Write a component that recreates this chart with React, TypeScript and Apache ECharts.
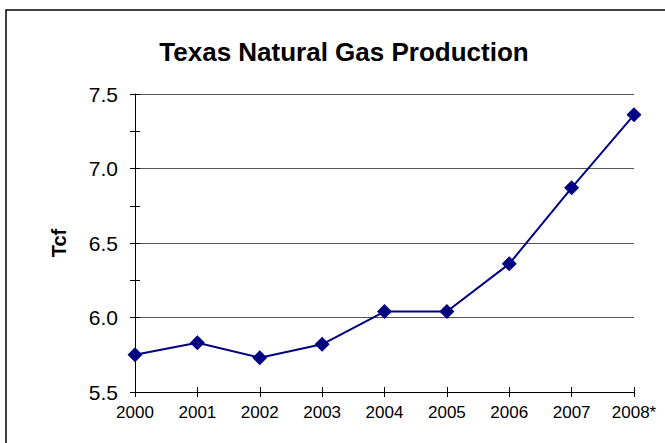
import React, { useEffect, useRef } from "react";
import * as echarts from "echarts";

const years = ["2000", "2001", "2002", "2003", "2004", "2005", "2006", "2007", "2008*"];
const production = [5.75, 5.83, 5.73, 5.82, 6.04, 6.04, 6.36, 6.87, 7.36];
const chartTitle = "Texas Natural Gas Production";
const yName = "Tcf";

export default function App() {
  const ref = useRef<HTMLDivElement>(null);
  useEffect(() => {
    const chart = echarts.init(ref.current!, null, { renderer: "svg" });
    const font = "'Liberation Sans', Arial, sans-serif";
    chart.setOption({
      animation: false,
      backgroundColor: "#fff",
      title: {
        text: chartTitle,
        left: 339,
        textAlign: "center",
        top: 34,
        textStyle: { fontFamily: font, fontSize: 26, fontWeight: "bold", color: "#000" },
      },
      graphic: [
        {
          type: "polyline",
          shape: { points: [[6, 443], [6, 10], [665, 10]] },
          style: { fill: "none", stroke: "#000", lineWidth: 1.5 },
          silent: true,
        },
      ],
      grid: { left: 135, right: 31, top: 94, bottom: 51 },
      xAxis: [
        {
          type: "category",
          data: years,
          boundaryGap: false,
          axisLine: { lineStyle: { color: "#000", width: 1 } },
          axisTick: { show: true, length: 5, lineStyle: { color: "#000" } },
          axisLabel: { color: "#000", fontFamily: font, fontSize: 17, margin: 12 },
          splitLine: { show: false },
        },
        {
          type: "category",
          data: years,
          position: "bottom",
          boundaryGap: false,
          axisLine: { show: false },
          axisTick: { show: true, inside: true, length: 5, lineStyle: { color: "#000" } },
          axisLabel: { show: false },
          splitLine: { show: false },
        },
      ],
      yAxis: [
        {
          type: "value",
          min: 5.5,
          max: 7.5,
          interval: 0.5,
          name: yName,
          nameLocation: "middle",
          nameGap: 66,
          nameTextStyle: { fontFamily: font, fontSize: 20, fontWeight: "bold", color: "#000" },
          axisLine: { show: true, lineStyle: { color: "#000", width: 1 } },
          axisTick: { show: true, length: 5, lineStyle: { color: "#000" } },
          minorTick: { show: true, splitNumber: 2, length: 5, lineStyle: { color: "#000" } },
          axisLabel: {
            color: "#000",
            fontFamily: font,
            fontSize: 21,
            margin: 17,
            formatter: (v: number) => v.toFixed(1),
          },
          splitLine: { show: true, lineStyle: { color: "#555", width: 1 } },
        },
        {
          type: "value",
          min: 5.5,
          max: 7.5,
          interval: 0.25,
          position: "left",
          axisLine: { show: false },
          axisTick: { show: true, inside: true, length: 5, lineStyle: { color: "#000" } },
          axisLabel: { show: false },
          splitLine: { show: false },
        },
      ],
      series: [
        {
          type: "line",
          data: production,
          xAxisIndex: 0,
          yAxisIndex: 0,
          symbol: "diamond",
          symbolSize: 15,
          lineStyle: { color: "#000080", width: 2 },
          itemStyle: { color: "#000080" },
        },
      ],
    });
    return () => chart.dispose();
  }, []);
  return <div ref={ref} style={{ width: 665, height: 443, position: "absolute", left: 0, top: 0, overflow: "hidden" }} />;
}
